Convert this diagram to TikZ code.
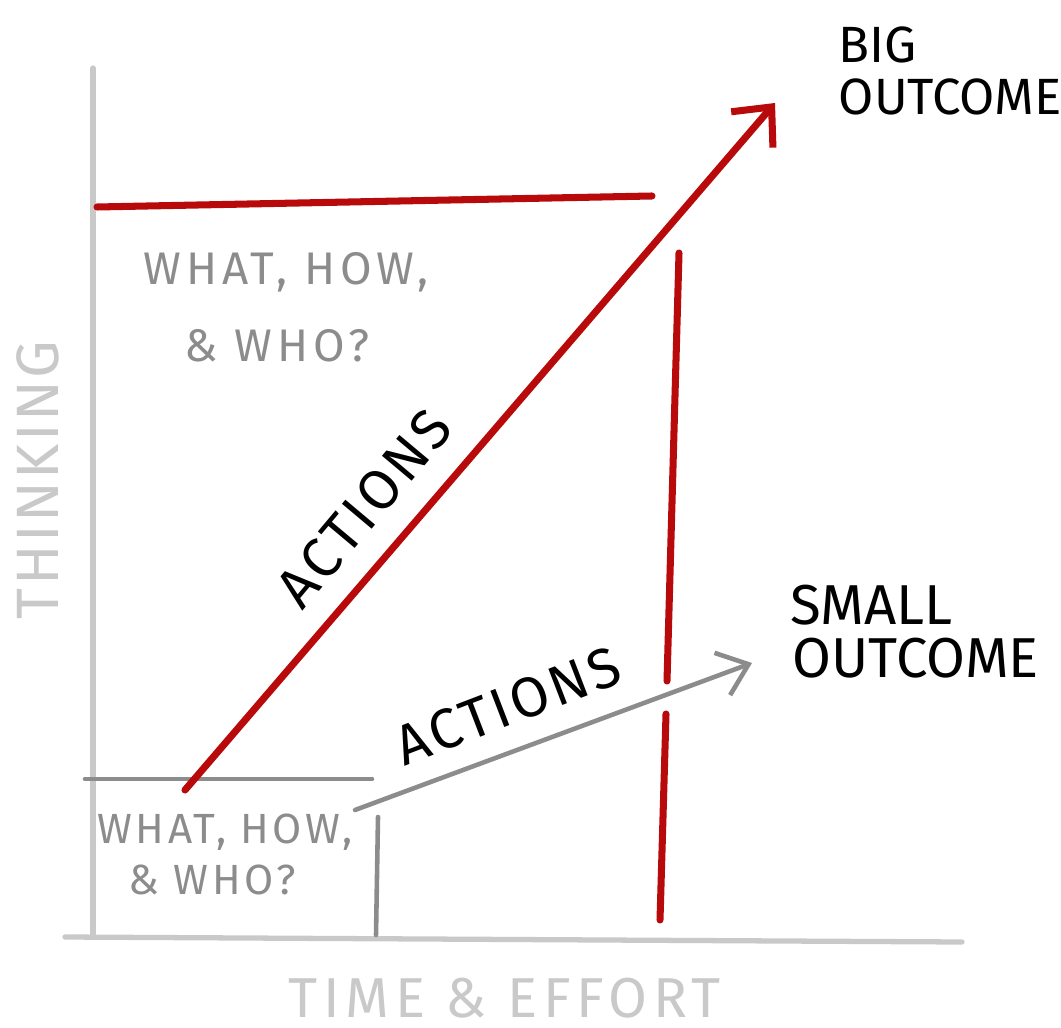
\documentclass[tikz,border=0pt]{standalone}
\usepackage{fontspec}
\setmainfont{Fira Sans}
\usepackage{tikz}
\usetikzlibrary{arrows.meta}

\definecolor{pen}{HTML}{B80A0A}
\definecolor{pencil}{HTML}{8C8C8C}
\definecolor{faint}{HTML}{C9C9C9}

\begin{document}
\begin{tikzpicture}[x=0.01cm,y=-0.01cm,line cap=round]
  \tikzstyle{every node}=[inner sep=0pt]
  \tikzstyle{axis}=[draw=faint,line width=1.5pt]
  \tikzstyle{redline}=[draw=pen,line width=2pt]
  \tikzstyle{grayline}=[draw=pencil,line width=1.3pt]
  \tikzstyle{note}=[text=pencil,font=\fontsize{13}{15}\selectfont\addfontfeature{LetterSpace=10.5},anchor=west]
  \tikzstyle{smallnote}=[text=pencil,font=\fontsize{12}{14}\selectfont\addfontfeature{LetterSpace=8},anchor=west]
  \tikzstyle{outcome}=[text=black,font=\fontsize{14.5}{16}\selectfont,anchor=west]
  \tikzstyle{act}=[text=black,font=\fontsize{16}{18}\selectfont\addfontfeature{LetterSpace=6}]

  \useasboundingbox (0,0) rectangle (1061,1028);

  % axes
  \coordinate (top) at (93,68);
  \coordinate (origin) at (93,937);
  \coordinate (xl) at (65,937);
  \coordinate (xr) at (962,942);
  \path[axis] (top) -- (origin);
  \path[axis] (xl) -- (xr);
  \draw (38,480) node[text=faint,font=\fontsize{17}{19}\selectfont\addfontfeature{LetterSpace=4},rotate=90] (thinking) {THINKING};
  \draw (505,998) node[text=faint,font=\fontsize{16}{18}\selectfont\addfontfeature{LetterSpace=10}] (effort) {TIME \& EFFORT};

  % big box
  \coordinate (bl) at (97,207);
  \coordinate (br) at (652,196);
  \coordinate (vt) at (679,253);
  \coordinate (vm) at (667,681);
  \coordinate (vn) at (666,714);
  \coordinate (vb) at (660,920);
  \path[redline] (bl) -- (br);
  \path[redline] (vt) -- (vm);
  \path[redline] (vn) -- (vb);
  \draw (143,272) node[note] (bigwhat) {WHAT, HOW,};
  \draw (184,346) node[note] (bigwho) {\& WHO?};

  % small box
  \coordinate (sl) at (85,779);
  \coordinate (sr) at (372,779);
  \coordinate (st) at (378,817);
  \coordinate (sb) at (376,935);
  \path[grayline] (sl) -- (sr);
  \path[grayline] (st) -- (sb);
  \draw (97,832) node[smallnote] (smallwhat) {WHAT, HOW,};
  \draw (128,880) node[smallnote] (smallwho) {\& WHO?};

  % outcomes
  \draw (838,45) node[outcome] (big1) {BIG};
  \draw (838,97) node[outcome] (big2) {OUTCOME};
  \draw (790,605) node[outcome,font=\fontsize{16}{18}\selectfont] (small1) {SMALL};
  \draw (792,658) node[outcome,font=\fontsize{16}{18}\selectfont] (small2) {OUTCOME};

  % actions
  \coordinate (ra) at (185,790);
  \coordinate (rb) at (775,103);
  \coordinate (ga) at (355,810);
  \coordinate (gb) at (752,663);
  \draw[redline,-{Straight Barb[length=3mm,width=5.5mm]}] (ra) -- (rb);
  \draw[grayline,-{Straight Barb[length=2.8mm,width=4.5mm]}] (ga) -- (gb);
  \draw (364,508) node[act,rotate=50] (act1) {ACTIONS};
  \draw (508,706) node[act,rotate=21] (act2) {ACTIONS};
\end{tikzpicture}
\end{document}
